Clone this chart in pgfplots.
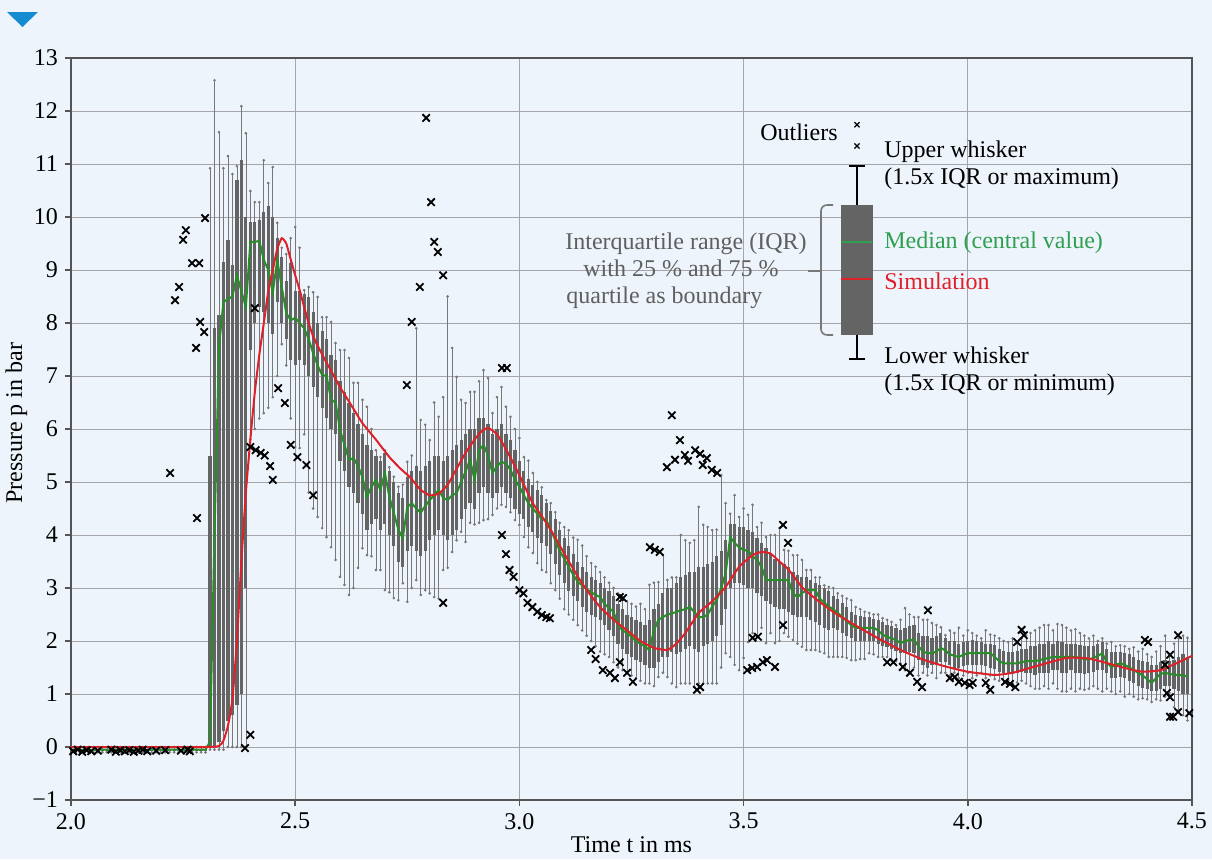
\documentclass[border=0pt]{standalone}
\usepackage{fontspec}
\setmainfont{Liberation Serif}
\usepackage{pgfplots}
\usepackage{pgfplotstable}
\pgfplotsset{compat=1.18}

\definecolor{bgblue}{RGB}{238,244,251}
\definecolor{triblue}{RGB}{20,140,210}
\definecolor{boxgray}{RGB}{100,100,100}
\definecolor{whiskgray}{RGB}{120,120,120}
\definecolor{medgreen}{RGB}{40,140,40}
\definecolor{medtext}{RGB}{46,160,80}
\definecolor{simred}{RGB}{222,32,40}
\definecolor{gridgray}{RGB}{165,165,170}
\definecolor{axisgray}{RGB}{85,85,85}
\definecolor{notegray}{RGB}{95,95,95}

% x lw q1 med q3 uw  (one box every 0.01 ms)
\pgfplotstableread{
x lw q1 med q3 uw
2.00 -0.10 -0.07 -0.05 -0.03 0.00
2.01 -0.10 -0.07 -0.05 -0.03 0.00
2.02 -0.10 -0.07 -0.06 -0.03 0.00
2.03 -0.10 -0.07 -0.05 -0.03 0.00
2.04 -0.10 -0.07 -0.05 -0.03 0.00
2.05 -0.10 -0.07 -0.06 -0.03 0.00
2.06 -0.10 -0.07 -0.05 -0.03 0.00
2.07 -0.10 -0.07 -0.05 -0.03 0.00
2.08 -0.10 -0.07 -0.05 -0.03 0.00
2.09 -0.10 -0.07 -0.06 -0.03 0.00
2.10 -0.10 -0.07 -0.05 -0.03 0.00
2.11 -0.10 -0.07 -0.05 -0.03 0.00
2.12 -0.10 -0.07 -0.05 -0.03 0.00
2.13 -0.10 -0.07 -0.06 -0.03 0.00
2.14 -0.10 -0.07 -0.05 -0.03 0.00
2.15 -0.10 -0.07 -0.05 -0.03 0.00
2.16 -0.10 -0.07 -0.05 -0.03 0.00
2.17 -0.10 -0.07 -0.06 -0.03 0.00
2.18 -0.10 -0.07 -0.05 -0.03 0.00
2.19 -0.10 -0.07 -0.05 -0.03 0.00
2.20 -0.10 -0.07 -0.05 -0.03 0.00
2.21 -0.10 -0.07 -0.06 -0.03 0.00
2.22 -0.10 -0.07 -0.05 -0.03 0.00
2.23 -0.10 -0.07 -0.05 -0.03 0.00
2.24 -0.10 -0.07 -0.05 -0.03 0.00
2.25 -0.10 -0.07 -0.06 -0.03 0.00
2.26 -0.10 -0.07 -0.05 -0.03 0.00
2.27 -0.10 -0.07 -0.05 -0.03 0.00
2.28 -0.10 -0.07 -0.05 -0.03 0.00
2.29 -0.10 -0.07 -0.05 -0.03 0.00
2.30 -0.10 -0.07 -0.05 -0.03 0.00
2.31 -0.05 0.00 0.10 5.50 10.92
2.32 -0.05 0.00 4.00 7.90 12.58
2.33 -0.05 0.10 7.55 8.15 11.60
2.34 -0.05 0.30 8.40 9.15 10.92
2.35 0.00 0.50 8.45 9.57 11.15
2.36 0.00 0.60 8.50 9.10 10.81
2.37 0.00 0.80 8.90 10.70 10.96
2.38 0.00 1.00 8.60 11.07 12.09
2.39 0.00 3.00 8.30 10.00 11.58
2.40 5.80 7.50 9.53 9.90 10.49
2.41 6.00 8.00 9.53 9.90 10.28
2.42 6.20 8.30 9.55 9.95 10.28
2.43 6.30 8.20 9.19 10.10 11.07
2.44 6.40 8.00 9.00 10.20 10.64
2.45 6.60 7.80 8.57 10.00 10.94
2.46 7.00 8.40 9.19 9.60 9.89
2.47 7.60 8.00 8.68 9.25 9.42
2.48 7.20 7.70 8.19 8.80 9.30
2.49 6.20 7.30 8.05 9.13 9.60
2.50 5.66 7.20 8.10 8.60 9.81
2.51 5.64 7.30 8.00 8.60 9.42
2.52 5.90 7.20 7.90 8.55 8.62
2.53 4.80 7.00 7.70 8.50 8.68
2.54 4.50 6.80 7.43 8.20 8.58
2.55 4.34 6.60 7.20 8.00 8.49
2.56 4.13 6.40 7.02 7.85 8.11
2.57 3.96 6.20 7.00 7.70 8.11
2.58 3.77 6.00 6.55 7.40 8.02
2.59 3.53 5.90 6.50 7.30 7.62
2.60 3.21 5.40 5.98 6.90 7.49
2.61 3.06 5.20 5.70 6.70 7.49
2.62 2.87 4.90 5.42 6.50 7.34
2.63 3.00 4.80 5.45 6.30 6.87
2.64 3.38 4.60 5.30 6.10 6.87
2.65 3.75 4.40 5.09 5.90 6.55
2.66 3.62 4.10 4.72 5.70 6.42
2.67 3.60 4.20 4.91 5.60 6.00
2.68 3.34 4.30 5.04 5.50 5.60
2.69 3.34 4.10 4.85 5.40 5.47
2.70 2.96 4.20 5.17 5.55 5.60
2.71 2.92 4.00 4.72 5.20 5.28
2.72 2.81 3.80 4.42 5.00 5.10
2.73 2.77 3.50 4.10 4.80 4.91
2.74 3.09 3.40 3.94 4.70 4.95
2.75 2.74 3.70 4.53 5.10 5.38
2.76 3.00 3.80 4.60 5.20 5.50
2.77 3.15 3.70 4.50 5.30 7.90
2.78 2.87 3.60 4.42 5.20 6.17
2.79 2.96 3.70 4.55 5.30 6.08
2.80 2.90 3.90 4.66 5.40 5.79
2.81 2.83 4.00 4.75 5.50 6.50
2.82 2.80 4.10 4.85 5.50 6.23
2.83 3.34 4.00 4.70 5.40 6.60
2.84 3.38 3.90 4.66 5.50 8.50
2.85 3.68 4.00 4.75 5.60 7.53
2.86 3.90 4.10 4.79 5.70 6.98
2.87 4.06 4.30 5.00 5.80 6.55
2.88 3.87 4.50 5.20 5.90 6.49
2.89 4.23 4.60 5.42 6.00 6.70
2.90 4.20 4.50 5.04 6.00 6.70
2.91 4.23 4.80 5.60 6.20 6.90
2.92 4.28 4.90 5.70 6.20 7.11
2.93 4.30 4.80 5.50 6.10 6.96
2.94 4.38 4.70 5.17 5.90 6.30
2.95 4.50 4.80 5.30 6.00 6.60
2.96 4.57 4.90 5.38 6.10 6.79
2.97 4.53 4.80 5.35 5.90 6.42
2.98 4.43 4.70 5.23 5.80 6.23
2.99 4.28 4.50 5.05 5.60 6.00
3.00 4.19 4.40 4.91 5.40 5.83
3.01 3.96 4.30 4.75 5.20 5.47
3.02 3.77 4.15 4.60 5.05 5.40
3.03 3.66 4.05 4.50 4.95 5.17
3.04 3.47 3.95 4.40 4.85 5.00
3.05 3.34 3.85 4.30 4.75 4.90
3.06 3.30 3.80 4.28 4.60 4.66
3.07 3.09 3.65 4.10 4.45 4.60
3.08 2.96 3.45 3.90 4.30 4.43
3.09 2.80 3.25 3.70 4.10 4.23
3.10 2.60 3.10 3.55 3.95 4.15
3.11 2.50 2.95 3.40 3.80 4.09
3.12 2.40 2.85 3.25 3.65 3.95
3.13 2.30 2.75 3.12 3.50 3.91
3.14 2.20 2.65 3.05 3.40 3.80
3.15 2.10 2.55 2.98 3.30 3.60
3.16 2.00 2.50 2.92 3.20 3.47
3.17 1.90 2.45 2.87 3.15 3.40
3.18 1.80 2.40 2.83 3.10 3.30
3.19 1.75 2.30 2.70 3.00 3.20
3.20 1.70 2.20 2.62 2.95 3.10
3.21 1.60 2.10 2.55 2.85 3.00
3.22 1.50 1.95 2.30 2.70 2.90
3.23 1.45 1.85 2.20 2.60 2.80
3.24 1.40 1.75 2.15 2.50 2.75
3.25 1.35 1.70 2.08 2.45 2.70
3.26 1.30 1.65 2.00 2.40 2.65
3.27 1.25 1.60 1.95 2.35 2.70
3.28 1.20 1.55 1.90 2.30 2.60
3.29 1.20 1.50 1.83 2.40 3.06
3.30 1.15 1.50 2.20 2.60 3.10
3.31 1.32 1.60 2.40 2.70 3.11
3.32 1.40 1.70 2.45 2.90 3.62
3.33 1.32 1.70 2.50 3.00 3.15
3.34 1.20 1.80 2.52 3.00 3.20
3.35 1.13 1.75 2.55 3.10 3.20
3.36 1.20 1.80 2.58 3.20 4.00
3.37 1.20 1.85 2.60 3.25 3.90
3.38 1.20 1.90 2.64 3.30 3.85
3.39 1.13 1.85 2.55 3.30 3.90
3.40 1.20 1.80 2.45 3.40 4.53
3.41 1.20 1.90 2.45 3.40 4.19
3.42 1.20 1.95 2.50 3.45 4.15
3.43 1.20 2.00 2.65 3.50 4.09
3.44 1.20 2.10 2.77 3.60 4.10
3.45 1.50 2.30 3.00 3.70 5.13
3.46 1.77 2.60 3.28 3.90 4.60
3.47 1.70 3.00 3.96 4.20 4.40
3.48 1.55 3.10 3.85 4.20 4.75
3.49 1.45 3.10 3.77 4.15 4.34
3.50 1.68 3.05 3.72 4.15 4.50
3.51 1.98 3.00 3.70 4.10 4.38
3.52 2.15 3.00 3.60 4.05 4.57
3.53 2.08 2.90 3.53 3.95 4.15
3.54 2.25 2.85 3.40 3.85 4.23
3.55 1.96 2.75 3.15 3.75 3.96
3.56 2.15 2.70 3.15 3.65 4.00
3.57 1.96 2.65 3.15 3.55 4.00
3.58 2.00 2.60 3.15 3.50 4.13
3.59 2.15 2.60 3.15 3.45 3.72
3.60 2.08 2.55 3.15 3.40 3.70
3.61 2.02 2.50 2.90 3.30 3.62
3.62 1.95 2.45 2.83 3.25 3.62
3.63 1.89 2.45 2.90 3.20 3.53
3.64 1.83 2.45 2.96 3.20 3.34
3.65 1.83 2.40 2.96 3.15 3.34
3.66 1.83 2.35 2.96 3.10 3.20
3.67 1.80 2.30 2.80 3.05 3.20
3.68 1.77 2.25 2.72 3.00 3.05
3.69 1.70 2.20 2.65 2.95 3.02
3.70 1.70 2.25 2.60 2.85 3.00
3.71 1.70 2.20 2.53 2.80 2.90
3.72 1.70 2.15 2.45 2.72 2.85
3.73 1.68 2.10 2.38 2.65 2.80
3.74 1.64 2.05 2.30 2.55 2.77
3.75 1.64 2.00 2.25 2.50 2.64
3.76 1.66 2.00 2.25 2.48 2.60
3.77 1.66 2.00 2.25 2.45 2.55
3.78 1.77 2.00 2.25 2.45 2.53
3.79 1.75 2.00 2.25 2.42 2.50
3.80 1.70 1.95 2.20 2.40 2.50
3.81 1.70 1.90 2.12 2.35 2.43
3.82 1.70 1.88 2.08 2.30 2.40
3.83 1.65 1.85 2.05 2.28 2.36
3.84 1.62 1.82 2.02 2.25 2.30
3.85 1.58 1.78 1.96 2.20 2.40
3.86 1.45 1.78 2.00 2.25 2.62
3.87 1.40 1.80 2.02 2.28 2.50
3.88 1.50 1.78 2.02 2.30 2.45
3.89 1.35 1.65 1.90 2.15 2.45
3.90 1.40 1.55 1.80 2.10 2.40
3.91 1.35 1.50 1.77 2.10 2.40
3.92 1.40 1.55 1.77 2.05 2.34
3.93 1.30 1.55 1.80 2.10 2.30
3.94 1.40 1.60 1.87 2.15 2.26
3.95 1.40 1.60 1.82 2.05 2.11
3.96 1.35 1.55 1.75 2.00 2.20
3.97 1.40 1.50 1.72 2.00 2.15
3.98 1.30 1.50 1.70 1.95 2.25
3.99 1.35 1.52 1.74 1.98 2.10
4.00 1.40 1.55 1.77 2.00 2.20
4.01 1.30 1.55 1.77 2.02 2.15
4.02 1.35 1.55 1.77 2.00 2.10
4.03 1.40 1.55 1.77 1.98 2.05
4.04 1.30 1.52 1.77 1.95 2.20
4.05 1.35 1.50 1.77 1.95 2.12
4.06 1.28 1.48 1.70 1.92 2.10
4.07 1.25 1.42 1.62 1.85 2.05
4.08 1.20 1.40 1.58 1.82 2.00
4.09 1.25 1.40 1.58 1.80 1.98
4.10 1.20 1.38 1.58 1.80 2.05
4.11 1.22 1.40 1.58 1.82 1.95
4.12 1.25 1.42 1.60 1.85 2.05
4.13 1.20 1.40 1.62 1.85 2.10
4.14 1.15 1.40 1.62 1.90 2.15
4.15 1.10 1.35 1.62 1.90 2.20
4.16 1.10 1.40 1.64 1.95 2.25
4.17 1.15 1.40 1.66 1.95 2.30
4.18 1.10 1.40 1.68 2.00 2.30
4.19 1.20 1.45 1.70 1.95 2.20
4.20 1.10 1.45 1.70 2.00 2.32
4.21 1.05 1.40 1.70 1.98 2.30
4.22 1.05 1.40 1.70 1.95 2.25
4.23 1.10 1.45 1.70 1.95 2.20
4.24 1.05 1.40 1.70 1.95 2.22
4.25 1.10 1.40 1.68 1.92 2.15
4.26 1.08 1.38 1.66 1.90 2.10
4.27 1.10 1.40 1.65 1.90 2.05
4.28 1.15 1.42 1.68 1.90 2.10
4.29 1.10 1.45 1.72 1.95 2.00
4.30 1.05 1.45 1.77 1.98 2.05
4.31 1.10 1.40 1.60 1.85 1.95
4.32 1.05 1.30 1.51 1.80 1.98
4.33 1.00 1.30 1.55 1.80 1.90
4.34 1.05 1.32 1.58 1.80 1.92
4.35 0.95 1.30 1.55 1.78 1.90
4.36 1.00 1.25 1.50 1.75 1.85
4.37 0.95 1.20 1.45 1.70 1.88
4.38 0.90 1.15 1.40 1.65 1.80
4.39 0.92 1.12 1.35 1.62 1.85
4.40 0.90 1.10 1.28 1.60 1.75
4.41 0.85 1.05 1.21 1.55 1.70
4.42 0.90 1.05 1.30 1.55 1.80
4.43 0.88 1.10 1.38 1.60 1.90
4.44 0.95 1.15 1.40 1.65 2.10
4.45 1.02 1.15 1.38 1.62 1.75
4.46 0.75 1.10 1.36 1.65 1.95
4.47 0.70 1.05 1.36 1.70 2.05
4.48 0.60 1.00 1.35 1.75 2.10
4.49 0.50 1.00 1.33 1.70 2.06
}\boxdata

% simulation curve
\pgfplotstableread{
x p
2.00 0.00
2.30 0.00
2.33 0.02
2.34 0.12
2.35 0.40
2.36 0.90
2.37 2.00
2.38 3.50
2.39 4.80
2.40 5.80
2.41 6.70
2.42 7.40
2.43 8.00
2.44 8.60
2.45 9.00
2.46 9.40
2.47 9.60
2.48 9.50
2.49 9.20
2.50 8.90
2.51 8.62
2.52 8.30
2.53 8.00
2.54 7.75
2.555 7.49
2.57 7.25
2.58 7.10
2.60 6.79
2.625 6.45
2.65 6.11
2.68 5.80
2.71 5.47
2.735 5.25
2.756 5.09
2.78 4.85
2.80 4.75
2.82 4.78
2.84 4.95
2.86 5.25
2.88 5.55
2.90 5.80
2.915 5.95
2.93 6.02
2.95 5.90
2.97 5.62
2.99 5.30
3.01 4.95
3.03 4.60
3.06 4.23
3.08 3.95
3.10 3.65
3.135 3.15
3.16 2.85
3.18 2.64
3.21 2.40
3.24 2.20
3.27 2.00
3.30 1.87
3.33 1.83
3.35 1.95
3.37 2.15
3.40 2.53
3.43 2.75
3.46 3.02
3.49 3.40
3.52 3.62
3.54 3.68
3.56 3.65
3.58 3.50
3.60 3.35
3.63 3.02
3.66 2.80
3.70 2.55
3.74 2.34
3.80 2.05
3.85 1.83
3.90 1.65
3.95 1.52
4.00 1.42
4.06 1.36
4.10 1.40
4.15 1.52
4.22 1.68
4.27 1.67
4.32 1.56
4.36 1.47
4.39 1.42
4.43 1.45
4.47 1.60
4.50 1.72
}\simdata

% outliers
\pgfplotstableread{
x p
2.005 -0.08
2.015 -0.05
2.025 -0.09
2.035 -0.06
2.045 -0.08
2.06 -0.07
2.09 -0.05
2.10 -0.09
2.11 -0.06
2.12 -0.08
2.13 -0.06
2.14 -0.09
2.15 -0.07
2.16 -0.05
2.17 -0.08
2.19 -0.07
2.21 -0.06
2.245 -0.07
2.26 -0.05
2.265 -0.08
2.221 5.17
2.232 8.43
2.241 8.68
2.250 9.57
2.256 9.75
2.270 9.13
2.286 9.13
2.281 4.32
2.279 7.53
2.288 8.02
2.297 7.83
2.299 9.98
2.388 -0.02
2.400 0.23
2.410 8.28
2.400 5.66
2.412 5.60
2.423 5.55
2.432 5.50
2.444 5.30
2.450 5.04
2.462 6.77
2.477 6.49
2.490 5.70
2.505 5.47
2.525 5.32
2.540 4.75
2.749 6.83
2.760 8.02
2.778 8.68
2.792 11.87
2.803 10.28
2.810 9.53
2.818 9.34
2.830 8.90
2.830 2.72
2.961 7.15
2.972 7.15
2.961 4.00
2.970 3.64
2.978 3.34
2.987 3.21
3.000 2.96
3.009 2.90
3.018 2.72
3.029 2.64
3.040 2.55
3.050 2.49
3.060 2.45
3.068 2.43
3.160 1.83
3.170 1.66
3.186 1.45
3.202 1.40
3.213 1.30
3.224 1.60
3.240 1.40
3.253 1.23
3.224 2.83
3.231 2.81
3.291 3.77
3.302 3.72
3.313 3.68
3.340 6.26
3.358 5.79
3.329 5.28
3.347 5.42
3.369 5.51
3.376 5.40
3.392 5.60
3.403 5.53
3.418 5.45
3.409 5.32
3.429 5.23
3.441 5.17
3.403 1.13
3.396 1.08
3.520 2.06
3.532 2.08
3.508 1.45
3.519 1.49
3.530 1.51
3.543 1.60
3.552 1.64
3.570 1.51
3.588 4.19
3.599 3.85
3.588 2.30
3.820 1.60
3.834 1.60
3.855 1.51
3.871 1.40
3.887 1.23
3.898 1.13
3.911 2.58
3.960 1.30
3.971 1.32
3.980 1.23
3.993 1.21
4.004 1.17
4.011 1.21
4.040 1.21
4.050 1.08
4.083 1.23
4.094 1.19
4.106 1.13
4.110 1.98
4.120 2.21
4.125 2.11
4.395 2.02
4.402 1.98
4.469 2.11
4.451 1.74
4.440 1.55
4.444 1.02
4.451 0.94
4.451 0.57
4.458 0.57
4.469 0.66
4.494 0.64
}\outdata

\begin{document}
\begin{tikzpicture}
\fill[bgblue] (-35.5pt,-29.5pt) rectangle (570.5pt,400pt);
\fill[triblue] (-32pt,394pt) -- (-16.5pt,394pt) -- (-24.25pt,386.5pt) -- cycle;
\begin{axis}[
  at={(0,0)}, anchor=south west,
  scale only axis, width=560.5pt, height=371pt,
  xmin=2, xmax=4.5, ymin=-1, ymax=13,
  xtick={2,2.5,3,3.5,4,4.5},
  xticklabels={2.0,2.5,3.0,3.5,4.0,4.5},
  ytick={-1,0,...,13},
  yticklabels={−1,0,1,2,3,4,5,6,7,8,9,10,11,12,13},
  grid=major,
  grid style={gridgray, line width=0.5pt},
  axis line style={axisgray, line width=0.8pt},
  tick align=outside, tick pos=left,
  major tick length=3pt,
  tick style={axisgray, line width=0.8pt},
  ticklabel style={font=\fontsize{12}{14}\selectfont},
  label style={font=\fontsize{12}{14}\selectfont},
  xlabel={Time t in ms},
  ylabel={Pressure p in bar},
  xlabel style={at={(axis description cs:0.5,-0.071)}, anchor=base},
  ylabel style={at={(axis description cs:-0.0437,0.508)}, anchor=base},
]
% whiskers
\addplot[draw=none, mark=none, forget plot,
  error bars/.cd, y dir=both, y explicit,
  error bar style={draw=whiskgray, line width=0.35pt},
  error mark=*, error mark options={mark size=0.45pt, draw=whiskgray, fill=whiskgray}]
  table[x=x, y=med, y error plus expr=\thisrow{uw}-\thisrow{med},
        y error minus expr=\thisrow{med}-\thisrow{lw}] {\boxdata};
% boxes (interquartile range)
\addplot[draw=none, mark=none, forget plot,
  error bars/.cd, y dir=both, y explicit,
  error bar style={draw=boxgray, line width=1.6pt},
  error mark=none]
  table[x=x, y=med, y error plus expr=\thisrow{q3}-\thisrow{med},
        y error minus expr=\thisrow{med}-\thisrow{q1}] {\boxdata};
% median
\addplot[medgreen, mark=none, line width=1pt] table[x=x, y=med] {\boxdata};
% simulation
\addplot[simred, mark=none, line width=1pt, smooth, tension=0.3] table[x=x, y=p] {\simdata};
% outliers
\addplot[only marks, mark=x, mark size=2.6pt, black, line width=0.9pt]
  table[x=x, y=p] {\outdata};

% explanatory box on the right
\addplot[black, mark=none, line width=1pt] coordinates {(3.753,10.96) (3.753,7.32)};
\addplot[only marks, mark=-, mark size=4pt, black, line width=1pt]
  coordinates {(3.753,10.96) (3.753,7.32)};
\addplot[fill=boxgray, draw=none, mark=none] coordinates
  {(3.7172,7.774) (3.7886,7.774) (3.7886,10.226) (3.7172,10.226)} -- cycle;
\addplot[medtext, mark=none, line width=1.3pt] coordinates {(3.7172,9.53) (3.7863,9.53)};
\addplot[simred, mark=none, line width=1.3pt] coordinates {(3.7172,8.83) (3.7863,8.83)};
\addplot[only marks, mark=x, mark size=1.8pt, black, line width=0.6pt]
  coordinates {(3.753,11.74) (3.753,11.34)};

\draw[whiskgray, line width=0.8pt, rounded corners=3pt]
  (axis cs:3.6994,10.226) -- (axis cs:3.6726,10.226)
  -- (axis cs:3.6726,7.774) -- (axis cs:3.6994,7.774);
\draw[whiskgray, line width=0.8pt] (axis cs:3.6726,8.981) -- (axis cs:3.6436,8.981);

\begin{scope}[every node/.style={font=\fontsize{12}{14}\selectfont, inner sep=0pt}]
\node[anchor=base east] at (axis cs:3.7105,11.45) {Outliers};
\node[anchor=base west] at (axis cs:3.813,11.13) {Upper whisker};
\node[anchor=base west] at (axis cs:3.813,10.62) {(1.5x IQR or maximum)};
\node[anchor=base west, text=medtext] at (axis cs:3.813,9.40) {Median (central value)};
\node[anchor=base west, text=simred] at (axis cs:3.813,8.64) {Simulation};
\node[anchor=base west] at (axis cs:3.813,7.23) {Lower whisker};
\node[anchor=base west] at (axis cs:3.813,6.72) {(1.5x IQR or minimum)};
\node[anchor=base west, text=notegray] at (axis cs:3.1017,9.38) {Interquartile range (IQR)};
\node[anchor=base west, text=notegray] at (axis cs:3.1418,8.87) {with 25 \% and 75 \%};
\node[anchor=base west, text=notegray] at (axis cs:3.1039,8.36) {quartile as boundary};
\end{scope}
\end{axis}
\pgfresetboundingbox
\path (-35.5pt,-29.5pt) rectangle (570.5pt,400pt);
\end{tikzpicture}
\end{document}
